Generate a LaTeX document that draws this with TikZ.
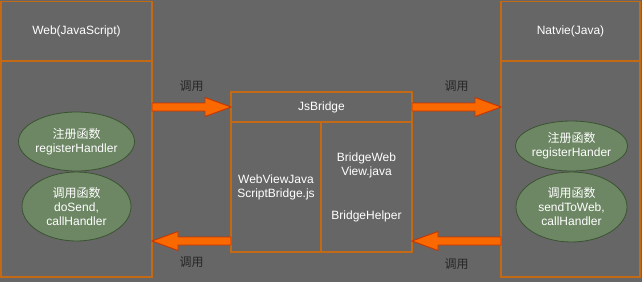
\documentclass[tikz,border=0pt]{standalone}
\usepackage{fontspec}
\setmainfont{Liberation Sans}
\newfontfamily\cjk{Noto Sans CJK SC}
\usepackage{xcolor}
\definecolor{canvas}{HTML}{666666}
\definecolor{paneledge}{HTML}{C46A14}
\definecolor{leaffill}{HTML}{6D8764}
\definecolor{leafedge}{HTML}{3A5431}
\definecolor{arrowfill}{HTML}{FA6800}
\definecolor{arrowedge}{HTML}{C73500}
\usepackage{tikz}
\usetikzlibrary{positioning,shapes.geometric,calc}
% block arrow: start, tip, offset of the head base from the tip (-26 right, 26 left)
\newcommand{\blockarrow}[3]{%
  \draw[callarr] ($(#1)+(0,-4)$) -- ($(#2)+(#3,-4)$) -- ($(#2)+(#3,-9.5)$)
    -- (#2) -- ($(#2)+(#3,9.5)$) -- ($(#2)+(#3,4)$) -- ($(#1)+(0,4)$) -- cycle;}

\begin{document}
\begin{tikzpicture}[
  x=1pt, y=-1pt,
  font=\fontsize{12}{14}\selectfont,
  panel/.style={draw=paneledge, line width=1.6pt, outer sep=0pt, inner sep=0pt,
                text=white, align=center},
  header/.style={panel, minimum height=59.5pt},
  body/.style={panel, minimum height=216pt},
  cell/.style={panel, minimum height=130pt},
  func/.style={ellipse, draw=leafedge, fill=leaffill, line width=0.8pt,
               text=white, align=center, inner sep=0pt},
  callarr/.style={draw=arrowedge, fill=arrowfill, line width=0.9pt, line join=miter},
  calllabel/.style={text=black!85, font=\fontsize{12}{14}\selectfont\cjk}
]
\useasboundingbox (0,0) rectangle (642,282);
\fill[canvas] (0,0) rectangle (642,282);

% web side
\node[header, minimum width=151pt] (webhead) at (76.5,31.25) {Web(JavaScript)};
\node[body, minimum width=151pt, below=0pt of webhead] (webbody) {};
\node[func, minimum width=109pt, minimum height=59pt] (webreg) at (76.5,141.5)
  {{\cjk 注册函数}\\registerHandler};
\node[func, minimum width=109pt, minimum height=69pt] (webcall) at (76.5,206.5)
  {{\cjk 调用函数}\\doSend,\\callHandler};

% native side
\node[header, minimum width=139pt] (nativehead) at (570.5,31.25) {Natvie(Java)};
\node[body, minimum width=139pt, below=0pt of nativehead] (nativebody) {};
\node[func, minimum width=111pt, minimum height=50pt] (nativereg) at (571.5,146)
  {{\cjk 注册函数}\\registerHander};
\node[func, minimum width=111pt, minimum height=70pt] (nativecall) at (571.5,207)
  {{\cjk 调用函数}\\sendToWeb,\\callHandler};

% bridge
\node[panel, minimum width=181pt, minimum height=30pt] (bridgehead) at (321.5,107) {JsBridge};
\node[cell, minimum width=90pt, anchor=north west] (jscell) at (bridgehead.south west)
  {WebViewJava\\ScriptBridge.js};
\node[cell, minimum width=91pt, anchor=north west] (javacell) at (jscell.north east)
  {BridgeWeb\\View.java\\[30pt]BridgeHelper};

\coordinate (webout) at (webbody.east |- bridgehead.west);
\coordinate (nativein) at (nativebody.west |- bridgehead.east);
\coordinate (bridgeback) at ($(jscell.south west)+(0,-11)$);
\coordinate (webin) at (webbody.east |- bridgeback);
\coordinate (javaback) at ($(javacell.south east)+(0,-11)$);
\coordinate (nativeout) at (nativebody.west |- javaback);

\blockarrow{webout}{bridgehead.west}{-26}
\blockarrow{bridgehead.east}{nativein}{-26}
\blockarrow{bridgeback}{webin}{26}
\blockarrow{nativeout}{javaback}{26}

\node[calllabel] (call1) at ($(webout)!0.5!(bridgehead.west)+(0,-21)$) {调用};
\node[calllabel] (call2) at ($(bridgehead.east)!0.5!(nativein)+(0,-21)$) {调用};
\node[calllabel] (call3) at ($(bridgeback)!0.5!(webin)+(0,21)$) {调用};
\node[calllabel] (call4) at ($(nativeout)!0.5!(javaback)+(0,23)$) {调用};
\end{tikzpicture}
\end{document}
